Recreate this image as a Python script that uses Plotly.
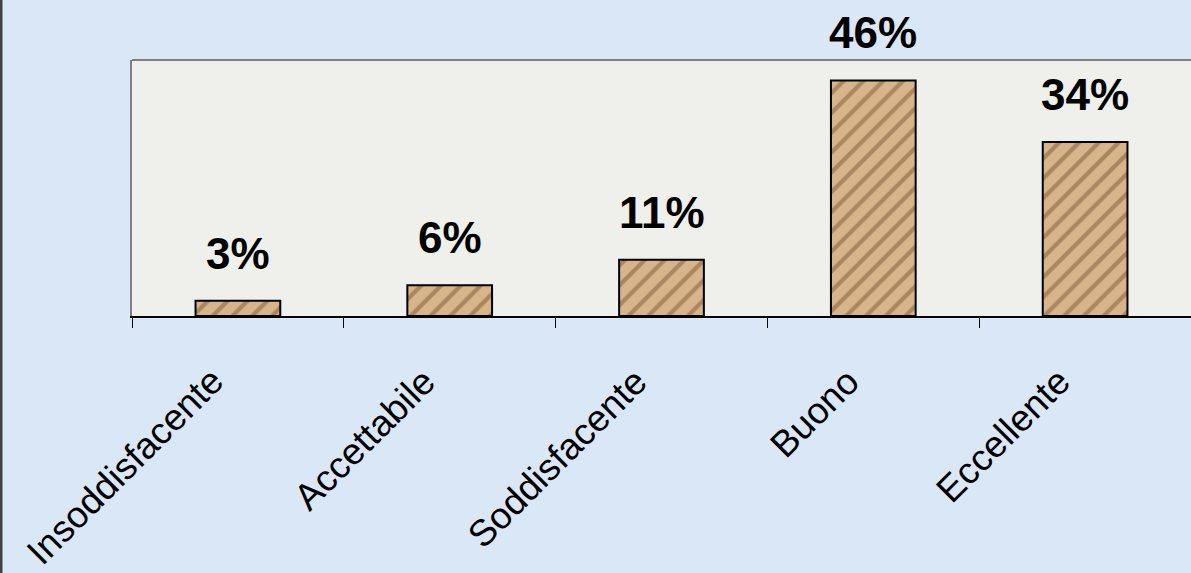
import plotly.graph_objects as go

categories = ["Insoddisfacente", "Accettabile", "Soddisfacente", "Buono", "Eccellente"]
values = [3, 6, 11, 46, 34]
labels = ["3%", "6%", "11%", "46%", "34%"]

ML, MR, MT, MB = 132, 0, 60, 257
W, H = 1191, 573
PW = W - ML - MR
PH = H - MT - MB

fig = go.Figure()
fig.add_trace(go.Bar(
    x=categories, y=values,
    width=0.4,
    marker=dict(
        color="#c9a278",
        line=dict(color="#000000", width=2),
        pattern=dict(shape="/", fgcolor="#7b5634", bgcolor="#d8b48a", size=14, solidity=0.3),
    ),
    hoverinfo="skip",
))

for c, v, t in zip(categories, values, labels):
    fig.add_annotation(x=c, y=v, text="<b>%s</b>" % t, showarrow=False,
                       yanchor="bottom", yshift=21,
                       font=dict(family="Arial, Liberation Sans", size=44, color="#000000"))

for c in categories:
    fig.add_annotation(x=c, y=0, yref="y", text=c, showarrow=False, textangle=-45,
                       xanchor="right", yanchor="top", xshift=-4, yshift=-42,
                       font=dict(family="Arial, Liberation Sans", size=37, color="#000000"))

fig.add_shape(type="line", xref="paper", yref="paper", x0=0, x1=1, y0=1, y1=1,
              line=dict(color="#808080", width=2))
fig.add_shape(type="line", xref="paper", yref="paper", x0=-(ML - 1) / PW, x1=-(ML - 1) / PW,
              y0=-MB / PH, y1=MT / PH + 1,
              line=dict(color="#404040", width=3))

fig.update_layout(
    width=W, height=H,
    margin=dict(l=ML, r=MR, t=MT, b=MB),
    paper_bgcolor="#dae7f6",
    plot_bgcolor="#efefeb",
    showlegend=False,
    xaxis=dict(
        range=[-0.5, len(categories) - 0.5],
        tickson="boundaries",
        ticks="outside", ticklen=10, tickcolor="#000000", tickwidth=1,
        showline=True, linecolor="#000000", linewidth=1.5,
        showgrid=False,
        showticklabels=False,
    ),
    yaxis=dict(
        range=[0, 50],
        showticklabels=False, showgrid=False, zeroline=False,
        showline=True, linecolor="#808080", linewidth=2,
        ticks="",
    ),
)

fig.write_html("out.html", config={"displayModeBar": False},
               post_script="document.body.style.margin='0';")
